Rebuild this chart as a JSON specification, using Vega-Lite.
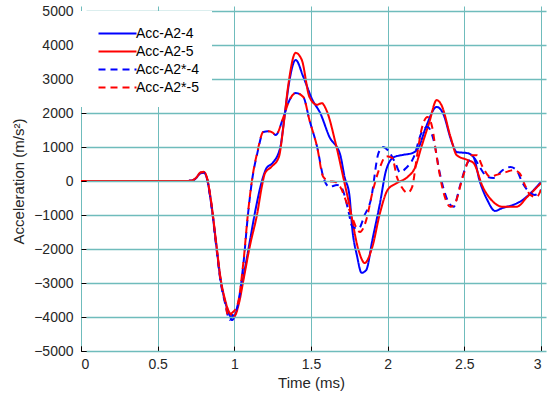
{
  "$schema": "https://vega.github.io/schema/vega-lite/v6.json",
  "width": 460,
  "height": 340,
  "autosize": "none",
  "padding": {"left": 81, "top": 11, "right": 9, "bottom": 49},
  "background": "white",
  "config": {
    "font": "Liberation Sans",
    "view": {"stroke": "#262626", "strokeWidth": 1},
    "axis": {
      "labelFont": "Liberation Sans",
      "titleFont": "Liberation Sans",
      "labelFontSize": 14,
      "titleFontSize": 15,
      "labelColor": "#262626",
      "titleColor": "#262626",
      "titleFontWeight": "normal",
      "domain": false,
      "tickColor": "black",
      "tickSize": 5,
      "offset": -5,
      "gridColor": "#6fbcbc",
      "gridWidth": 1,
      "gridOpacity": 1
    }
  },
  "data": {
    "values": [
      {"s": "Acc-A2-4", "t": 0, "a": 0},
      {"s": "Acc-A2-4", "t": 0.6, "a": 0},
      {"s": "Acc-A2-4", "t": 0.72, "a": 5},
      {"s": "Acc-A2-4", "t": 0.75, "a": 80},
      {"s": "Acc-A2-4", "t": 0.78, "a": 240},
      {"s": "Acc-A2-4", "t": 0.8, "a": 250},
      {"s": "Acc-A2-4", "t": 0.82, "a": 100},
      {"s": "Acc-A2-4", "t": 0.85, "a": -700},
      {"s": "Acc-A2-4", "t": 0.88, "a": -1800},
      {"s": "Acc-A2-4", "t": 0.91, "a": -2900},
      {"s": "Acc-A2-4", "t": 0.94, "a": -3550},
      {"s": "Acc-A2-4", "t": 0.97, "a": -3950},
      {"s": "Acc-A2-4", "t": 0.985, "a": -4090},
      {"s": "Acc-A2-4", "t": 1.0, "a": -4000},
      {"s": "Acc-A2-4", "t": 1.03, "a": -3500},
      {"s": "Acc-A2-4", "t": 1.06, "a": -2800},
      {"s": "Acc-A2-4", "t": 1.1, "a": -1800},
      {"s": "Acc-A2-4", "t": 1.14, "a": -800},
      {"s": "Acc-A2-4", "t": 1.18, "a": 0},
      {"s": "Acc-A2-4", "t": 1.21, "a": 380},
      {"s": "Acc-A2-4", "t": 1.25, "a": 530},
      {"s": "Acc-A2-4", "t": 1.3, "a": 1000},
      {"s": "Acc-A2-4", "t": 1.33, "a": 2000},
      {"s": "Acc-A2-4", "t": 1.36, "a": 2970},
      {"s": "Acc-A2-4", "t": 1.4, "a": 3560},
      {"s": "Acc-A2-4", "t": 1.45, "a": 3060},
      {"s": "Acc-A2-4", "t": 1.51, "a": 2380},
      {"s": "Acc-A2-4", "t": 1.56, "a": 2000},
      {"s": "Acc-A2-4", "t": 1.62, "a": 1300},
      {"s": "Acc-A2-4", "t": 1.69, "a": 780},
      {"s": "Acc-A2-4", "t": 1.72, "a": 100},
      {"s": "Acc-A2-4", "t": 1.75, "a": -400},
      {"s": "Acc-A2-4", "t": 1.77, "a": -1440},
      {"s": "Acc-A2-4", "t": 1.8, "a": -2200},
      {"s": "Acc-A2-4", "t": 1.83, "a": -2700},
      {"s": "Acc-A2-4", "t": 1.86, "a": -2620},
      {"s": "Acc-A2-4", "t": 1.9, "a": -1740},
      {"s": "Acc-A2-4", "t": 1.95, "a": -650},
      {"s": "Acc-A2-4", "t": 1.99, "a": 320},
      {"s": "Acc-A2-4", "t": 2.04, "a": 700},
      {"s": "Acc-A2-4", "t": 2.09, "a": 760},
      {"s": "Acc-A2-4", "t": 2.16, "a": 820},
      {"s": "Acc-A2-4", "t": 2.2, "a": 970},
      {"s": "Acc-A2-4", "t": 2.25, "a": 1590},
      {"s": "Acc-A2-4", "t": 2.32, "a": 2180},
      {"s": "Acc-A2-4", "t": 2.36, "a": 2000},
      {"s": "Acc-A2-4", "t": 2.42, "a": 1120},
      {"s": "Acc-A2-4", "t": 2.45, "a": 850},
      {"s": "Acc-A2-4", "t": 2.52, "a": 820},
      {"s": "Acc-A2-4", "t": 2.56, "a": 700},
      {"s": "Acc-A2-4", "t": 2.6, "a": 0},
      {"s": "Acc-A2-4", "t": 2.65, "a": -560},
      {"s": "Acc-A2-4", "t": 2.7, "a": -880},
      {"s": "Acc-A2-4", "t": 2.75, "a": -790},
      {"s": "Acc-A2-4", "t": 2.82, "a": -700},
      {"s": "Acc-A2-4", "t": 2.88, "a": -560},
      {"s": "Acc-A2-4", "t": 2.94, "a": -320},
      {"s": "Acc-A2-4", "t": 3.0, "a": -30},

      {"s": "Acc-A2-5", "t": 0, "a": 0},
      {"s": "Acc-A2-5", "t": 0.6, "a": 0},
      {"s": "Acc-A2-5", "t": 0.72, "a": 5},
      {"s": "Acc-A2-5", "t": 0.75, "a": 90},
      {"s": "Acc-A2-5", "t": 0.78, "a": 250},
      {"s": "Acc-A2-5", "t": 0.8, "a": 270},
      {"s": "Acc-A2-5", "t": 0.82, "a": 120},
      {"s": "Acc-A2-5", "t": 0.85, "a": -650},
      {"s": "Acc-A2-5", "t": 0.88, "a": -1750},
      {"s": "Acc-A2-5", "t": 0.91, "a": -2850},
      {"s": "Acc-A2-5", "t": 0.94, "a": -3500},
      {"s": "Acc-A2-5", "t": 0.97, "a": -3880},
      {"s": "Acc-A2-5", "t": 1.0, "a": -3970},
      {"s": "Acc-A2-5", "t": 1.03, "a": -3600},
      {"s": "Acc-A2-5", "t": 1.06, "a": -2900},
      {"s": "Acc-A2-5", "t": 1.1, "a": -1940},
      {"s": "Acc-A2-5", "t": 1.15, "a": -940},
      {"s": "Acc-A2-5", "t": 1.18, "a": -150},
      {"s": "Acc-A2-5", "t": 1.2, "a": 230},
      {"s": "Acc-A2-5", "t": 1.24, "a": 410},
      {"s": "Acc-A2-5", "t": 1.29, "a": 700},
      {"s": "Acc-A2-5", "t": 1.32, "a": 1600},
      {"s": "Acc-A2-5", "t": 1.35, "a": 2760},
      {"s": "Acc-A2-5", "t": 1.4, "a": 3770},
      {"s": "Acc-A2-5", "t": 1.44, "a": 3560},
      {"s": "Acc-A2-5", "t": 1.49, "a": 2470},
      {"s": "Acc-A2-5", "t": 1.54, "a": 2240},
      {"s": "Acc-A2-5", "t": 1.57, "a": 2290},
      {"s": "Acc-A2-5", "t": 1.6, "a": 2090},
      {"s": "Acc-A2-5", "t": 1.66, "a": 1120},
      {"s": "Acc-A2-5", "t": 1.71, "a": 120},
      {"s": "Acc-A2-5", "t": 1.75, "a": -700},
      {"s": "Acc-A2-5", "t": 1.81, "a": -2030},
      {"s": "Acc-A2-5", "t": 1.85, "a": -2410},
      {"s": "Acc-A2-5", "t": 1.9, "a": -1940},
      {"s": "Acc-A2-5", "t": 1.95, "a": -940},
      {"s": "Acc-A2-5", "t": 2.0, "a": -260},
      {"s": "Acc-A2-5", "t": 2.06, "a": -60},
      {"s": "Acc-A2-5", "t": 2.13, "a": 120},
      {"s": "Acc-A2-5", "t": 2.18, "a": 410},
      {"s": "Acc-A2-5", "t": 2.22, "a": 1000},
      {"s": "Acc-A2-5", "t": 2.27, "a": 1700},
      {"s": "Acc-A2-5", "t": 2.32, "a": 2380},
      {"s": "Acc-A2-5", "t": 2.35, "a": 2240},
      {"s": "Acc-A2-5", "t": 2.41, "a": 1300},
      {"s": "Acc-A2-5", "t": 2.45, "a": 760},
      {"s": "Acc-A2-5", "t": 2.52, "a": 620},
      {"s": "Acc-A2-5", "t": 2.56, "a": 530},
      {"s": "Acc-A2-5", "t": 2.62, "a": -170},
      {"s": "Acc-A2-5", "t": 2.69, "a": -620},
      {"s": "Acc-A2-5", "t": 2.75, "a": -760},
      {"s": "Acc-A2-5", "t": 2.84, "a": -760},
      {"s": "Acc-A2-5", "t": 2.91, "a": -470},
      {"s": "Acc-A2-5", "t": 3.0, "a": -60},

      {"s": "Acc-A2*-4", "t": 0, "a": 0},
      {"s": "Acc-A2*-4", "t": 0.6, "a": 0},
      {"s": "Acc-A2*-4", "t": 0.72, "a": 5},
      {"s": "Acc-A2*-4", "t": 0.75, "a": 80},
      {"s": "Acc-A2*-4", "t": 0.78, "a": 230},
      {"s": "Acc-A2*-4", "t": 0.8, "a": 240},
      {"s": "Acc-A2*-4", "t": 0.82, "a": 90},
      {"s": "Acc-A2*-4", "t": 0.85, "a": -700},
      {"s": "Acc-A2*-4", "t": 0.88, "a": -1850},
      {"s": "Acc-A2*-4", "t": 0.91, "a": -2950},
      {"s": "Acc-A2*-4", "t": 0.94, "a": -3600},
      {"s": "Acc-A2*-4", "t": 0.97, "a": -4090},
      {"s": "Acc-A2*-4", "t": 0.99, "a": -3950},
      {"s": "Acc-A2*-4", "t": 1.02, "a": -3700},
      {"s": "Acc-A2*-4", "t": 1.06, "a": -2400},
      {"s": "Acc-A2*-4", "t": 1.09, "a": -940},
      {"s": "Acc-A2*-4", "t": 1.115, "a": 0},
      {"s": "Acc-A2*-4", "t": 1.15, "a": 820},
      {"s": "Acc-A2*-4", "t": 1.19, "a": 1440},
      {"s": "Acc-A2*-4", "t": 1.22, "a": 1460},
      {"s": "Acc-A2*-4", "t": 1.25, "a": 1420},
      {"s": "Acc-A2*-4", "t": 1.27, "a": 1350},
      {"s": "Acc-A2*-4", "t": 1.32, "a": 1880},
      {"s": "Acc-A2*-4", "t": 1.36, "a": 2380},
      {"s": "Acc-A2*-4", "t": 1.4, "a": 2590},
      {"s": "Acc-A2*-4", "t": 1.45, "a": 2470},
      {"s": "Acc-A2*-4", "t": 1.49, "a": 1790},
      {"s": "Acc-A2*-4", "t": 1.54, "a": 1000},
      {"s": "Acc-A2*-4", "t": 1.58, "a": 120},
      {"s": "Acc-A2*-4", "t": 1.62, "a": -170},
      {"s": "Acc-A2*-4", "t": 1.67, "a": -120},
      {"s": "Acc-A2*-4", "t": 1.7, "a": -200},
      {"s": "Acc-A2*-4", "t": 1.74, "a": -800},
      {"s": "Acc-A2*-4", "t": 1.77, "a": -1350},
      {"s": "Acc-A2*-4", "t": 1.81, "a": -1400},
      {"s": "Acc-A2*-4", "t": 1.85, "a": -1000},
      {"s": "Acc-A2*-4", "t": 1.89, "a": -560},
      {"s": "Acc-A2*-4", "t": 1.94, "a": 820},
      {"s": "Acc-A2*-4", "t": 1.97, "a": 1000},
      {"s": "Acc-A2*-4", "t": 2.0, "a": 910},
      {"s": "Acc-A2*-4", "t": 2.05, "a": 530},
      {"s": "Acc-A2*-4", "t": 2.08, "a": 260},
      {"s": "Acc-A2*-4", "t": 2.12, "a": 380},
      {"s": "Acc-A2*-4", "t": 2.17, "a": 700},
      {"s": "Acc-A2*-4", "t": 2.22, "a": 1410},
      {"s": "Acc-A2*-4", "t": 2.26, "a": 1590},
      {"s": "Acc-A2*-4", "t": 2.3, "a": 1200},
      {"s": "Acc-A2*-4", "t": 2.34, "a": 230},
      {"s": "Acc-A2*-4", "t": 2.39, "a": -560},
      {"s": "Acc-A2*-4", "t": 2.43, "a": -760},
      {"s": "Acc-A2*-4", "t": 2.47, "a": -170},
      {"s": "Acc-A2*-4", "t": 2.52, "a": 530},
      {"s": "Acc-A2*-4", "t": 2.56, "a": 680},
      {"s": "Acc-A2*-4", "t": 2.6, "a": 410},
      {"s": "Acc-A2*-4", "t": 2.65, "a": 120},
      {"s": "Acc-A2*-4", "t": 2.69, "a": 90},
      {"s": "Acc-A2*-4", "t": 2.75, "a": 320},
      {"s": "Acc-A2*-4", "t": 2.8, "a": 410},
      {"s": "Acc-A2*-4", "t": 2.84, "a": 320},
      {"s": "Acc-A2*-4", "t": 2.88, "a": -60},
      {"s": "Acc-A2*-4", "t": 2.93, "a": -350},
      {"s": "Acc-A2*-4", "t": 2.96, "a": -410},
      {"s": "Acc-A2*-4", "t": 3.0, "a": -260},

      {"s": "Acc-A2*-5", "t": 0, "a": 0},
      {"s": "Acc-A2*-5", "t": 0.6, "a": 0},
      {"s": "Acc-A2*-5", "t": 0.72, "a": 5},
      {"s": "Acc-A2*-5", "t": 0.75, "a": 90},
      {"s": "Acc-A2*-5", "t": 0.78, "a": 250},
      {"s": "Acc-A2*-5", "t": 0.8, "a": 260},
      {"s": "Acc-A2*-5", "t": 0.82, "a": 110},
      {"s": "Acc-A2*-5", "t": 0.85, "a": -650},
      {"s": "Acc-A2*-5", "t": 0.88, "a": -1800},
      {"s": "Acc-A2*-5", "t": 0.91, "a": -2900},
      {"s": "Acc-A2*-5", "t": 0.94, "a": -3550},
      {"s": "Acc-A2*-5", "t": 0.96, "a": -3970},
      {"s": "Acc-A2*-5", "t": 0.98, "a": -3900},
      {"s": "Acc-A2*-5", "t": 1.02, "a": -3650},
      {"s": "Acc-A2*-5", "t": 1.06, "a": -2350},
      {"s": "Acc-A2*-5", "t": 1.09, "a": -900},
      {"s": "Acc-A2*-5", "t": 1.115, "a": 20},
      {"s": "Acc-A2*-5", "t": 1.15, "a": 850},
      {"s": "Acc-A2*-5", "t": 1.19, "a": 1450},
      {"s": "Acc-A2*-5", "t": 1.22, "a": 1460},
      {"s": "Acc-A2*-5", "t": 1.25, "a": 1420},
      {"s": "Acc-A2*-5", "t": 1.27, "a": 1350},
      {"s": "Acc-A2*-5", "t": 1.32, "a": 1880},
      {"s": "Acc-A2*-5", "t": 1.36, "a": 2380},
      {"s": "Acc-A2*-5", "t": 1.4, "a": 2590},
      {"s": "Acc-A2*-5", "t": 1.45, "a": 2470},
      {"s": "Acc-A2*-5", "t": 1.49, "a": 1790},
      {"s": "Acc-A2*-5", "t": 1.54, "a": 1000},
      {"s": "Acc-A2*-5", "t": 1.58, "a": 120},
      {"s": "Acc-A2*-5", "t": 1.62, "a": 0},
      {"s": "Acc-A2*-5", "t": 1.66, "a": -30},
      {"s": "Acc-A2*-5", "t": 1.69, "a": -170},
      {"s": "Acc-A2*-5", "t": 1.75, "a": -850},
      {"s": "Acc-A2*-5", "t": 1.82, "a": -1500},
      {"s": "Acc-A2*-5", "t": 1.86, "a": -1150},
      {"s": "Acc-A2*-5", "t": 1.9, "a": -350},
      {"s": "Acc-A2*-5", "t": 1.95, "a": 410},
      {"s": "Acc-A2*-5", "t": 1.99, "a": 730},
      {"s": "Acc-A2*-5", "t": 2.03, "a": 680},
      {"s": "Acc-A2*-5", "t": 2.06, "a": 120},
      {"s": "Acc-A2*-5", "t": 2.09, "a": -170},
      {"s": "Acc-A2*-5", "t": 2.13, "a": -350},
      {"s": "Acc-A2*-5", "t": 2.16, "a": -170},
      {"s": "Acc-A2*-5", "t": 2.19, "a": 700},
      {"s": "Acc-A2*-5", "t": 2.22, "a": 1500},
      {"s": "Acc-A2*-5", "t": 2.26, "a": 1880},
      {"s": "Acc-A2*-5", "t": 2.29, "a": 1590},
      {"s": "Acc-A2*-5", "t": 2.32, "a": 700},
      {"s": "Acc-A2*-5", "t": 2.36, "a": -260},
      {"s": "Acc-A2*-5", "t": 2.41, "a": -760},
      {"s": "Acc-A2*-5", "t": 2.44, "a": -650},
      {"s": "Acc-A2*-5", "t": 2.49, "a": 120},
      {"s": "Acc-A2*-5", "t": 2.55, "a": 760},
      {"s": "Acc-A2*-5", "t": 2.58, "a": 760},
      {"s": "Acc-A2*-5", "t": 2.62, "a": 410},
      {"s": "Acc-A2*-5", "t": 2.67, "a": 120},
      {"s": "Acc-A2*-5", "t": 2.71, "a": 180},
      {"s": "Acc-A2*-5", "t": 2.77, "a": 260},
      {"s": "Acc-A2*-5", "t": 2.82, "a": 320},
      {"s": "Acc-A2*-5", "t": 2.86, "a": 230},
      {"s": "Acc-A2*-5", "t": 2.9, "a": -170},
      {"s": "Acc-A2*-5", "t": 2.93, "a": -410},
      {"s": "Acc-A2*-5", "t": 2.97, "a": -470},
      {"s": "Acc-A2*-5", "t": 3.0, "a": -260}
    ]
  },
  "mark": {"type": "line", "strokeWidth": 2, "clip": true, "interpolate": "monotone"},
  "encoding": {
    "x": {
      "field": "t", "type": "quantitative",
      "scale": {"domain": [0, 3], "nice": false, "zero": false},
      "axis": {"title": "Time (ms)", "grid": true, "format": "~g", "values": [0, 0.5, 1, 1.5, 2, 2.5, 3], "labelPadding": 6, "titlePadding": 4}
    },
    "y": {
      "field": "a", "type": "quantitative",
      "scale": {"domain": [-5000, 5000], "nice": false},
      "axis": {"title": "Acceleration (m/s²)", "grid": true, "zindex": 1, "gridColor": "#6fbcbc", "gridWidth": 1.5, "values": [-5000, -4000, -3000, -2000, -1000, 0, 1000, 2000, 3000, 4000, 5000], "format": "d", "labelPadding": 8, "titlePadding": 7}
    },
    "color": {
      "field": "s", "type": "nominal",
      "scale": {"domain": ["Acc-A2-4", "Acc-A2-5", "Acc-A2*-4", "Acc-A2*-5"], "range": ["#0000ff", "#ff0000", "#0000ff", "#ff0000"]},
      "legend": {
        "title": null,
        "orient": "top-left",
        "offset": 0,
        "padding": 12,
        "rowPadding": 0,
        "zindex": 2,
        "fillColor": "white",
        "symbolType": "M-2,0H2",
        "symbolSize": 361,
        "symbolOffset": 14,
        "symbolStrokeWidth": 2,
        "labelOffset": 8,
        "labelFontSize": 14,
        "labelColor": "black",
        "labelFont": "Liberation Sans"
      }
    },
    "strokeDash": {
      "field": "s", "type": "nominal",
      "scale": {"domain": ["Acc-A2-4", "Acc-A2-5", "Acc-A2*-4", "Acc-A2*-5"], "range": [[1, 0], [1, 0], [7, 5], [7, 5]]},
      "legend": null
    },
    "order": {"field": "t", "type": "quantitative"}
  }
}
